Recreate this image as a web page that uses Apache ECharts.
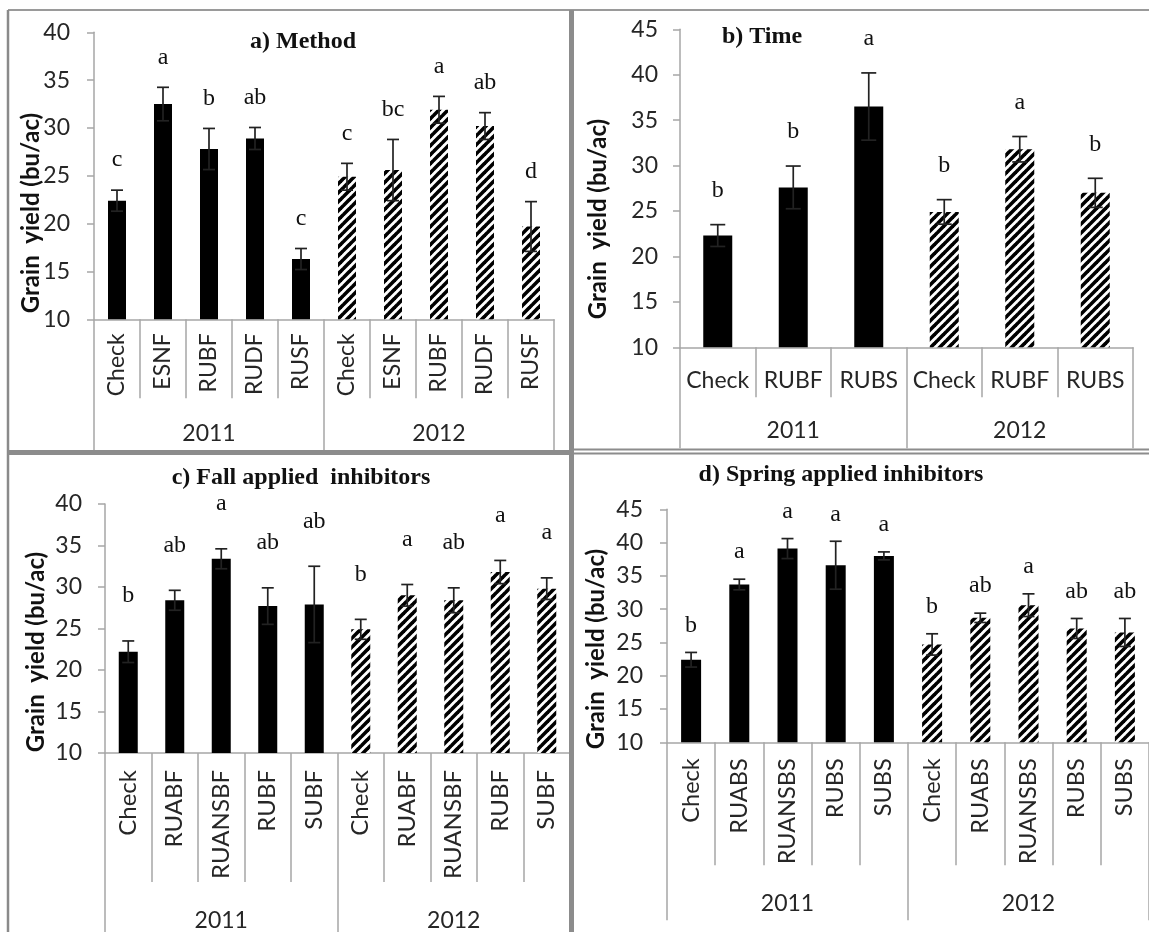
<!DOCTYPE html>
<html>
<head>
<meta charset="utf-8">
<script src="https://cdn.jsdelivr.net/npm/echarts@6/dist/echarts.min.js"></script>
<style>
html,body{margin:0;padding:0;background:#fff;}
#chart{width:1149px;height:932px;}
</style>
</head>
<body>
<div id="chart"></div>
<script>
// ---------- DATA ----------
const yearLabels = ['2011', '2012'];

// a) Method
const catsA = ['Check','ESNF','RUBF','RUDF','RUSF','Check','ESNF','RUBF','RUDF','RUSF'];
const meanA = [22.4, 32.5, 27.8, 28.9, 16.3, 24.9, 25.6, 31.9, 30.2, 19.7];
const errA  = [1.1, 1.75, 2.15, 1.15, 1.1, 1.4, 3.2, 1.4, 1.4, 2.6];
const letA  = ['c','a','b','ab','c','c','bc','a','ab','d'];

// b) Time
const catsB = ['Check','RUBF','RUBS','Check','RUBF','RUBS'];
const meanB = [22.3, 27.6, 36.5, 24.9, 31.8, 27.0];
const errB  = [1.2, 2.35, 3.7, 1.35, 1.4, 1.6];
const letB  = ['b','b','a','b','a','b'];

// c) Fall applied inhibitors
const catsC = ['Check','RUABF','RUANSBF','RUBF','SUBF','Check','RUABF','RUANSBF','RUBF','SUBF'];
const meanC = [22.2, 28.4, 33.4, 27.7, 27.9, 24.9, 29.0, 28.4, 31.8, 29.8];
const errC  = [1.3, 1.2, 1.2, 2.2, 4.6, 1.2, 1.3, 1.5, 1.4, 1.3];
const letC  = ['b','ab','a','ab','ab','b','a','ab','a','a'];

// d) Spring applied inhibitors
const catsD = ['Check','RUABS','RUANSBS','RUBS','SUBS','Check','RUABS','RUANSBS','RUBS','SUBS'];
const meanD = [22.4, 33.7, 39.1, 36.6, 38.0, 24.7, 28.7, 30.6, 27.1, 26.5];
const errD  = [1.1, 0.8, 1.5, 3.6, 0.6, 1.6, 0.7, 1.7, 1.5, 2.1];
const letD  = ['b','a','a','a','a','b','ab','a','ab','ab'];

// y-axis ranges
const yMinA = 10, yMaxA = 40;
const yMinB = 10, yMaxB = 45;
const yMinC = 10, yMaxC = 40;
const yMinD = 10, yMaxD = 45;
const yStep = 5;

// ---------- STYLE ----------
function makeHatch() {
  const p = 9;
  const c = document.createElement('canvas');
  c.width = p; c.height = p;
  const g = c.getContext('2d');
  g.fillStyle = '#fff'; g.fillRect(0, 0, p, p);
  g.strokeStyle = '#000'; g.lineWidth = 3.6;
  for (const off of [-p, 0, p]) {
    g.beginPath(); g.moveTo(off - 1, p + 1); g.lineTo(off + p + 1, -1); g.stroke();
  }
  return { image: c, repeat: 'repeat' };
}
const hatch = makeHatch();

const AX = '#a6a6a6';
const TXT = '#262626';
const SANS = 'Lato';
const SERIF = 'Liberation Serif';

const panels = [
  { cats: catsA, mean: meanA, err: errA, let: letA, min: yMinA, max: yMaxA,
    grid: { left: 94, top: 32.3, width: 460, height: 287 }, barW: 18, cap: 12,
    rot: 90, catMargin: 14, catTick: 79, catFont: 23, yearTick: 131, yearMargin: 103,
    letGap: 18, yLabMargin: 24 },
  { cats: catsB, mean: meanB, err: errB, let: letB, min: yMinB, max: yMaxB,
    grid: { left: 680, top: 29.3, width: 453, height: 318 }, barW: 29, cap: 15,
    rot: 0, catMargin: 22, catTick: 50, catFont: 23, yearTick: 101, yearMargin: 72,
    letGap: 22, yLabMargin: 22 },
  { cats: catsC, mean: meanC, err: errC, let: letC, min: yMinC, max: yMaxC,
    grid: { left: 105, top: 504, width: 465, height: 249 }, barW: 19, cap: 12,
    rot: 90, catMargin: 17, catTick: 129, catFont: 24, yearTick: 179, yearMargin: 156,
    letGap: 33, yLabMargin: 23 },
  { cats: catsD, mean: meanD, err: errD, let: letD, min: yMinD, max: yMaxD,
    grid: { left: 667, top: 509.3, width: 486, height: 233 }, barW: 20, cap: 12,
    rot: 90, catMargin: 16, catTick: 123, catFont: 23.5, yearTick: 178, yearMargin: 150,
    letGap: 15, yLabMargin: 24 }
];

const grids = [], xAxes = [], yAxes = [], series = [];
panels.forEach((p, gi) => {
  grids.push(Object.assign({ containLabel: false }, p.grid));
  const half = p.cats.length / 2;
  // category axis
  xAxes.push({
    type: 'category', gridIndex: gi, position: 'bottom', data: p.cats,
    axisLine: { lineStyle: { color: AX, width: 1.5 } },
    axisTick: { show: true, interval: 0, length: p.catTick, lineStyle: { color: AX, width: 1.5 } },
    axisLabel: { interval: 0, rotate: p.rot, margin: p.catMargin, color: TXT,
                 fontFamily: SANS, fontSize: p.catFont }
  });
  // year axis
  xAxes.push({
    type: 'category', gridIndex: gi, position: 'bottom', data: yearLabels,
    axisLine: { show: false },
    axisTick: { show: true, interval: 0, length: p.yearTick, lineStyle: { color: AX, width: 1.5 } },
    axisLabel: { interval: 0, margin: p.yearMargin, color: TXT, fontFamily: SANS, fontSize: 23 }
  });
  yAxes.push({
    type: 'value', gridIndex: gi, min: p.min, max: p.max, interval: yStep,
    axisLine: { show: true, lineStyle: { color: AX, width: 1.5 } },
    axisTick: { show: true, length: 7, lineStyle: { color: AX, width: 1.5 } },
    splitLine: { show: false },
    axisLabel: { margin: p.yLabMargin, color: TXT, fontFamily: SANS, fontSize: 23 }
  });
  const xi = gi * 2;
  series.push({
    type: 'bar', xAxisIndex: xi, yAxisIndex: gi, barWidth: p.barW,
    data: p.mean.map((v, i) => ({ value: v, itemStyle: { color: i < half ? '#000' : hatch } })),
    silent: true, animation: false
  });
  series.push({
    type: 'custom', xAxisIndex: xi, yAxisIndex: gi, z: 5, silent: true, animation: false,
    data: p.mean.map((m, i) => [i, m - p.err[i], m + p.err[i]]),
    renderItem: function (params, api) {
      const lo = api.coord([api.value(0), api.value(1)]);
      const hi = api.coord([api.value(0), api.value(2)]);
      const w = p.cap / 2;
      const st = { stroke: '#222', lineWidth: 1.7 };
      return { type: 'group', children: [
        { type: 'line', shape: { x1: hi[0], y1: hi[1], x2: lo[0], y2: lo[1] }, style: st },
        { type: 'line', shape: { x1: hi[0] - w, y1: hi[1], x2: hi[0] + w, y2: hi[1] }, style: st },
        { type: 'line', shape: { x1: lo[0] - w, y1: lo[1], x2: lo[0] + w, y2: lo[1] }, style: st }
      ]};
    }
  });
  series.push({
    type: 'custom', xAxisIndex: xi, yAxisIndex: gi, z: 6, silent: true, animation: false,
    data: p.mean.map((m, i) => [i, m + p.err[i]]),
    renderItem: function (params, api) {
      const pt = api.coord([api.value(0), api.value(1)]);
      return { type: 'text', x: pt[0], y: pt[1] - p.letGap,
        style: { text: p.let[params.dataIndex], fill: '#111', font: '24px ' + SERIF,
                 align: 'center', verticalAlign: 'bottom' } };
    }
  });
});

const titleStyle = { color: '#111', fontFamily: SERIF, fontWeight: 'bold', fontSize: 24 };
const titles = [
  { text: 'a) Method', left: 303, top: 30 },
  { text: 'b) Time', left: 762, top: 25 },
  { text: 'c) Fall applied  inhibitors', left: 301, top: 466 },
  { text: 'd) Spring applied inhibitors', left: 841, top: 463 }
].map(t => Object.assign(t, { textAlign: 'center', padding: 0, textStyle: titleStyle }));

function yName(x, y) {
  return { type: 'text', x: x, y: y, rotation: Math.PI / 2, z: 50,
    style: { text: 'Grain  yield (bu/ac)', fill: '#111', font: 'bold 24px ' + SANS,
             align: 'center', verticalAlign: 'middle' } };
}
function ln(x1, y1, x2, y2, w, c) {
  return { type: 'line', z: 100, silent: true,
    shape: { x1: x1, y1: y1, x2: x2, y2: y2 }, style: { stroke: c, lineWidth: w } };
}

const chart = echarts.init(document.getElementById('chart'), null, { renderer: 'canvas' });
chart.setOption({
  animation: false,
  backgroundColor: '#fff',
  title: titles,
  grid: grids,
  xAxis: xAxes,
  yAxis: yAxes,
  series: series,
  graphic: [
    yName(31, 213), yName(598, 219), yName(36, 652), yName(596, 649),
    ln(8, 10, 1149, 10, 2, '#9a9a9a'),
    ln(8, 10, 8, 932, 2.5, '#8a8a8a'),
    ln(571.5, 10, 571.5, 932, 5, '#8c8c8c'),
    ln(8, 452.5, 571, 452.5, 5, '#8c8c8c'),
    ln(571, 449.5, 1149, 449.5, 2, '#8c8c8c'),
    ln(571, 453.5, 1149, 453.5, 2, '#8c8c8c')
  ]
});
</script>
</body>
</html>
